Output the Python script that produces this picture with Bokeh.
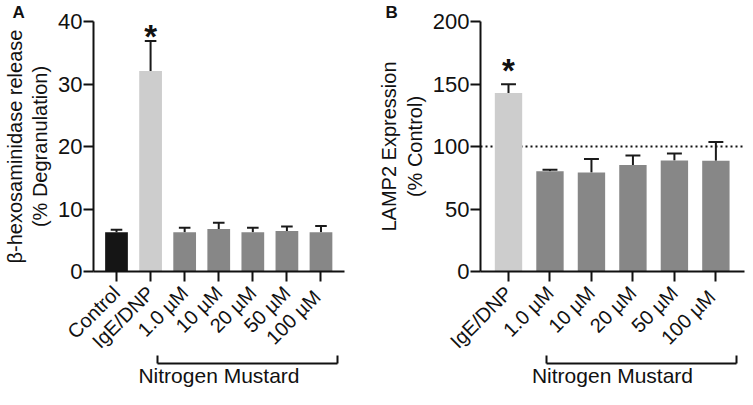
import numpy as np
from bokeh.plotting import figure
from bokeh.layouts import row
from bokeh.models import Range1d, FixedTicker, Span, LinearAxis, ColumnDataSource
from bokeh.core.properties import value
from bokeh.embed import file_html
from bokeh.resources import INLINE

FONT = "Liberation Sans"

# ---------------- data ----------------
# Panel A: beta-hexosaminidase release (% degranulation)
a_labels = ["Control", "IgE/DNP", "1.0 µM", "10 µM", "20 µM", "50 µM", "100  µM"]
a_mean = [6.3, 32.1, 6.3, 6.8, 6.3, 6.5, 6.3]
a_err = [0.4, 4.8, 0.7, 1.0, 0.7, 0.7, 1.0]
a_group = ["control", "stim", "nm", "nm", "nm", "nm", "nm"]
a_yticks = [0, 10, 20, 30, 40]

# Panel B: LAMP2 expression (% control)
b_labels = ["IgE/DNP", "1.0 µM", "10 µM", "20 µM", "50 µM", "100  µM"]
b_mean = [142.8, 80.2, 79.2, 85.3, 88.9, 88.6]
b_err = [7.0, 1.3, 10.9, 7.6, 5.5, 15.0]
b_group = ["stim", "nm", "nm", "nm", "nm", "nm"]
b_yticks = [0, 50, 100, 150, 200]
b_control_level = 100

nm_label = "Nitrogen Mustard"
sig_index_a = 1
sig_index_b = 0

COLORS = {"control": "#151515", "stim": "#cdcdcd", "nm": "#878787"}
INK = "#111111"


def panel(labels, mean, err, group, yticks, ylabel, letter, sig_idx,
          width, left, right, bar_w, cap_half, star_px, bracket_x, letter_off):
    n = len(labels)
    x = np.arange(n)
    mean = np.asarray(mean, dtype=float)
    hi = mean + np.asarray(err, dtype=float)
    ymax = yticks[-1]
    pad_l, pad_r = 0.675, 0.69
    p = figure(width=width, height=389,
               x_range=Range1d(-pad_l, n - 1 + pad_r),
               y_range=Range1d(0, ymax),
               output_backend="svg", toolbar_location=None,
               min_border_left=left, min_border_right=right,
               min_border_top=11, min_border_bottom=20)
    p.outline_line_color = None
    p.grid.visible = False
    p.background_fill_color = "white"
    p.border_fill_color = "white"

    # panel letter
    p.title.text = letter
    p.title.align = "left"
    p.title.offset = letter_off
    p.title.standoff = 0
    p.title.text_font = FONT
    p.title.text_font_size = "17px"
    p.title.text_font_style = "bold"
    p.title.text_color = INK
    p.title.text_line_height = 0.9

    src = ColumnDataSource(dict(x=x, top=mean, hi=hi,
                                xl=x - cap_half, xr=x + cap_half,
                                color=[COLORS[g] for g in group]))
    p.segment(x0="x", y0="top", x1="x", y1="hi", source=src,
              line_color="#1a1a1a", line_width=2)
    p.segment(x0="xl", y0="hi", x1="xr", y1="hi", source=src,
              line_color="#1a1a1a", line_width=2)
    p.vbar(x="x", top="top", width=bar_w, bottom=0, source=src,
           fill_color="color", line_color=None)

    # significance asterisk
    px_per_unit = 258.0 / ymax
    p.text(x=[x[sig_idx]], y=[hi[sig_idx] + star_px / px_per_unit], text=["*"],
           text_font=value(FONT), text_font_size="33px", text_font_style="bold",
           text_align="center", text_baseline="alphabetic", text_color=INK)

    # axes
    for ax in (p.xaxis[0], p.yaxis[0]):
        ax.axis_line_width = 2
        ax.axis_line_color = INK
        ax.major_tick_line_width = 2
        ax.major_tick_line_color = INK
        ax.major_tick_out = 10
        ax.major_tick_in = 0
        ax.minor_tick_line_color = None
        ax.major_label_text_font = FONT
        ax.major_label_text_color = INK
    p.yaxis.ticker = FixedTicker(ticks=yticks)
    p.yaxis.major_label_text_font_size = "22px"
    p.yaxis.major_label_standoff = 1
    p.yaxis.axis_label = ylabel
    p.yaxis.axis_label_text_font = FONT
    p.yaxis.axis_label_text_font_size = "20px"
    p.yaxis.axis_label_text_font_style = "normal"
    p.yaxis.axis_label_text_color = INK
    p.yaxis.axis_label_text_line_height = 1.15
    p.yaxis.axis_label_standoff = 4

    p.xaxis.ticker = FixedTicker(ticks=list(x))
    p.xaxis.major_label_overrides = {int(i): lab for i, lab in zip(x, labels)}
    p.xaxis.major_label_orientation = np.pi / 4
    p.xaxis.major_label_text_font_size = "20px"
    p.xaxis.major_label_standoff = 8

    # bracket for the nitrogen mustard group, drawn as a bounded axis
    # whose (label-free) minor ticks form the bracket ends
    x0, x1 = bracket_x
    br = LinearAxis(bounds=(x0 - 1e-6, x1 + 1e-6),
                    ticker=FixedTicker(ticks=[], minor_ticks=[x0, x1]),
                    minor_tick_in=8, minor_tick_out=0,
                    minor_tick_line_width=2, minor_tick_line_color=INK,
                    major_tick_line_color=None,
                    axis_line_width=2, axis_line_color=INK,
                    major_label_standoff=0,
                    axis_label=nm_label, axis_label_standoff=0,
                    axis_label_text_line_height=1.0,
                    axis_label_text_font=FONT, axis_label_text_font_size="21px",
                    axis_label_text_font_style="normal", axis_label_text_color=INK)
    p.add_layout(br, "below")
    return p


pa = panel(a_labels, a_mean, a_err, a_group, a_yticks,
           "β-hexosaminidase release\n(% Degranulation)", "A", sig_index_a,
           width=372, left=82, right=28, bar_w=0.667, cap_half=0.17, star_px=5,
           bracket_x=(1.19, 6.49), letter_off=-81)

pb = panel(b_labels, b_mean, b_err, b_group, b_yticks,
           "LAMP2 Expression\n(% Control)", "B", sig_index_b,
           width=373, left=108, right=1, bar_w=0.66, cap_half=0.18, star_px=14,
           bracket_x=(0.925, 5.5), letter_off=-95)
pb.add_layout(Span(location=b_control_level, dimension="width", line_color=INK,
                   line_width=2, line_dash="2 3", level="underlay"))

layout = row(pa, pb)
open("out.html", "w").write(file_html(layout, INLINE))
